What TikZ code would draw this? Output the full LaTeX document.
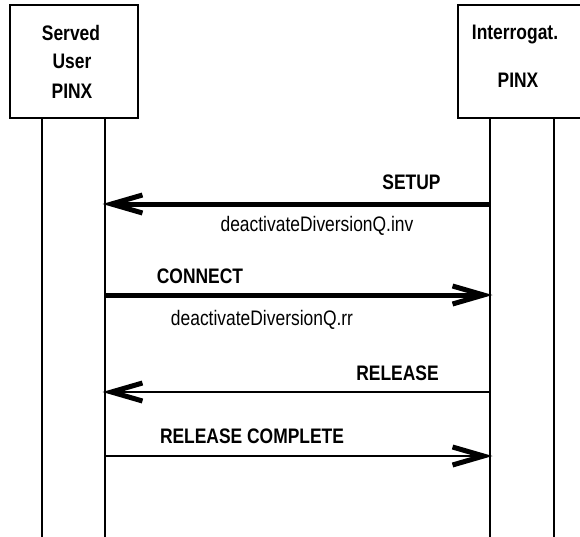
\documentclass[tikz,border=0pt]{standalone}
\usepackage{fontspec}
\setmainfont[FakeStretch=0.83]{Liberation Sans}
\usetikzlibrary{arrows.meta}
\begin{document}
\begin{tikzpicture}[x=1pt,y=-1pt,
  entity/.style={draw,line width=2.6pt,rectangle,inner sep=0pt},
  lifeline/.style={line width=2.6pt},
  thickmsg/.style={line width=5pt,shorten >=-2.5pt,-{Straight Barb[length=31pt,width=18pt,line width=5pt]}},
  thinmsg/.style={line width=2.6pt,shorten >=-2.5pt,-{Straight Barb[length=31pt,width=18pt,line width=5pt]}},
  lbl/.style={font=\fontsize{21}{25}\selectfont\bfseries,anchor=base,inner sep=0pt},
  sublbl/.style={font=\fontsize{21}{25}\selectfont,anchor=base,inner sep=0pt}]
\useasboundingbox (0,0) rectangle (580,536);
\clip (0,0) rectangle (580,536);
% entity boxes
\node[entity,minimum width=128pt,minimum height=113pt] (boxA) at (74,61.5) {};
\node[entity,minimum width=142pt,minimum height=113pt] (boxB) at (529,61.5) {};
\node[lbl] (tA1) at (71,40) {Served};
\node[lbl] (tA2) at (72,68) {User};
\node[lbl] (tA3) at (72,98) {PINX};
\node[lbl] (tB1) at (515,39) {Interrogat.};
\node[lbl] (tB2) at (518,87) {PINX};
% lifelines
\coordinate (a1top) at (42,118);  \coordinate (a1bot) at (42,540);
\coordinate (a2top) at (105,118); \coordinate (a2bot) at (105,540);
\coordinate (b1top) at (490,118); \coordinate (b1bot) at (490,540);
\coordinate (b2top) at (554,118); \coordinate (b2bot) at (554,540);
\draw[lifeline] (a1top) -- (a1bot);
\draw[lifeline] (a2top) -- (a2bot);
\draw[lifeline] (b1top) -- (b1bot);
\draw[lifeline] (b2top) -- (b2bot);
% message end points
\coordinate (m1a) at (105,204); \coordinate (m1b) at (490,204);
\coordinate (m2a) at (105,295); \coordinate (m2b) at (490,295);
\coordinate (m3a) at (105,392); \coordinate (m3b) at (490,392);
\coordinate (m4a) at (105,456); \coordinate (m4b) at (490,456);
\draw[thickmsg] (m1b) -- (m1a);
\draw[thickmsg] (m2a) -- (m2b);
\draw[thinmsg] (m3b) -- (m3a);
\draw[thinmsg] (m4a) -- (m4b);
% labels
\node[lbl] (l1) at (411.5,189) {SETUP};
\node[sublbl] (s1) at (317,231) {deactivateDiversionQ.inv};
\node[lbl] (l2) at (200,283) {CONNECT};
\node[sublbl] (s2) at (262,325) {deactivateDiversionQ.rr};
\node[lbl] (l3) at (397.5,380) {RELEASE};
\node[lbl] (l4) at (252,443) {RELEASE COMPLETE};
\end{tikzpicture}
\end{document}
